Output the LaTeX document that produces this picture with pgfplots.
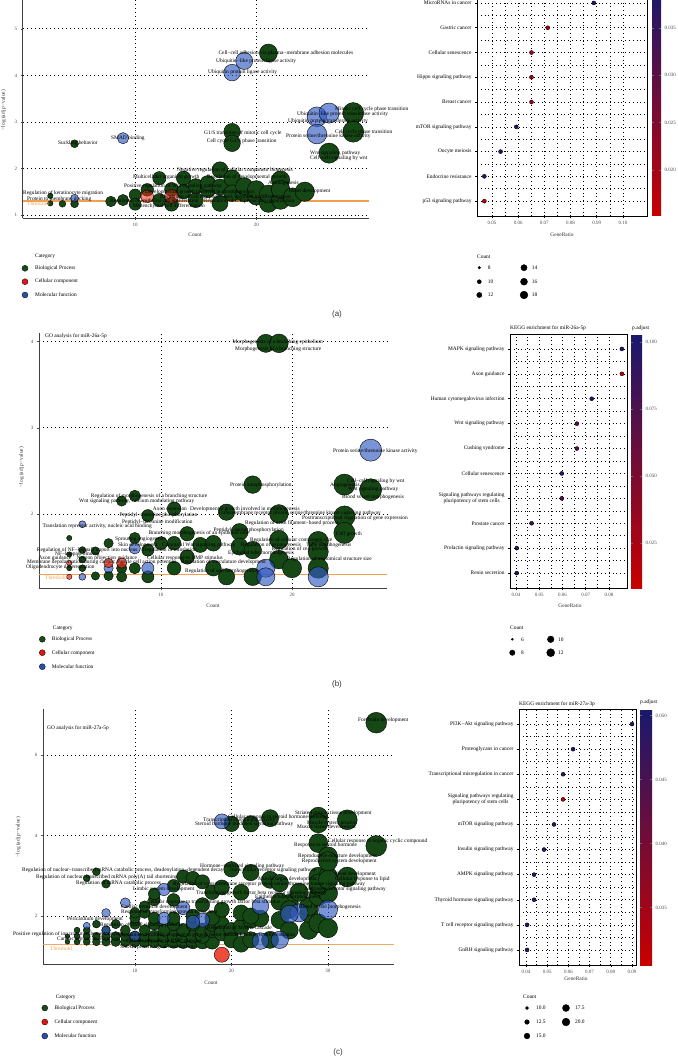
\documentclass[border=0pt]{standalone}
\usepackage{pgfplots}
\pgfplotsset{compat=1.18}
\usepackage{fontspec}
\setmainfont{Liberation Serif}
\newfontfamily\sansf{Liberation Sans}
\definecolor{goG}{RGB}{22,72,22}
\definecolor{goB}{RGB}{50,90,195}
\definecolor{goR}{RGB}{235,45,25}
\definecolor{legG}{RGB}{25,75,25}
\definecolor{legR}{RGB}{228,20,20}
\definecolor{legB}{RGB}{40,80,170}
\definecolor{thr}{RGB}{240,160,80}
\newcommand\lf{\fontsize{5.4}{6}\selectfont}
\newcommand\tf{\fontsize{5}{5.6}\selectfont}
\newcommand\TW[3]{\node[anchor=west,font=\lf,inner sep=0pt] at (#1pt,-#2pt) {#3};}
\newcommand\TE[3]{\node[anchor=east,font=\lf,inner sep=0pt] at (#1pt,-#2pt) {#3};}
\newcommand\THR[2]{\node[anchor=west,font=\lf,inner sep=0pt,text=thr] at (#1pt,-#2pt) {Threshold};}
\pgfplotsset{
  goaxis/.style={scale only axis, clip=false, axis lines=left, axis line style={-, line width=0.6pt, black!75},
    xmajorgrids, ymajorgrids, major grid style={black, line width=0.75pt, dash pattern=on 0.75pt off 3.2pt},
    tick align=outside, major tick length=2pt, tick style={black!70, line width=0.5pt},
    tick label style={font=\tf, text=black!70, /pgf/number format/assume math mode=true}},
  bubble/.style n args={3}{scatter, only marks, mark=*,
    scatter/use mapped color={draw=none, fill=#1, fill opacity=#2},
    visualization depends on={#3 \as \rad},
    scatter/@pre marker code/.append style={/tikz/mark size=\rad}},
  keggaxis/.style={scale only axis, ymin=0.4, axis line style={line width=0.8pt, black},
    grid=both, minor x tick num=1, minor y tick num=1,
    grid style={black, line width=0.6pt, dash pattern=on 0.6pt off 3.2pt},
    major grid style={black, line width=0.6pt, dash pattern=on 0.6pt off 3.2pt},
    minor tick length=0pt, tick align=outside, major tick length=2pt, tick style={black, line width=0.5pt},
    tick pos=left, scaled x ticks=false,
    xticklabel style={font=\tf, text=black!70, /pgf/number format/assume math mode=true, /pgf/number format/fixed, /pgf/number format/fixed zerofill, /pgf/number format/precision=2},
    yticklabel style={font=\lf, align=center},
    colormap={kegg}{rgb255(0cm)=(200,0,0); rgb255(1cm)=(25,25,110)},
    colorbar, colorbar shift/.style={xshift=5pt}},
  kdot/.style={scatter, only marks, mark=*, point meta=\thisrow{p},
    visualization depends on={\thisrow{r} \as \rad},
    scatter/@pre marker code/.append style={/tikz/mark size=\rad},
    scatter/use mapped color={draw=none, fill=mapped color}},
  cbar/.style={colorbar style={at={(parent axis.north east)}, anchor=north west, scale only axis, width=#1,
    yticklabel style={font=\tf, text=black!70}, scaled y ticks=false,
    yticklabel={\pgfmathprintnumber[fixed,fixed zerofill,precision=3,assume math mode=true]{\tick}},
    major tick length=2pt, tick style={black!60}, axis line style={draw=none}}},
}
\begin{document}
\begin{tikzpicture}
\useasboundingbox (0pt,-1059pt) rectangle (677pt,0pt);

% ================= (a) GO =================
\begin{axis}[goaxis, at={(22.7pt,-218pt)}, anchor=south west, width=346.3pt, height=238pt,
  xmin=0.72, xmax=29.3, ymin=0.935, ymax=6.05, ytick={1,2,3,4,5}, xtick={10,20}]
\addplot[thr, line width=1.1pt] coordinates {(0.72,1.301) (29.3,1.301)};
\addplot[bubble={goG}{1}{sqrt(4.1*\thisrow{x}-5)}] table[row sep=\\]{x y\\
3 1.41\\ 3 1.25\\ 4 1.24\\ 5 1.24\\ 5 2.53\\ 8 1.29\\ 9 1.32\\ 10 1.43\\ 10 1.23\\ 11 1.54\\
12 1.79\\ 12 1.32\\ 13 1.23\\ 13 1.55\\ 14 1.79\\ 14 1.50\\ 15 1.32\\ 15 1.62\\ 16 1.54\\ 16 1.68\\
17 1.97\\ 17 1.25\\ 17 1.60\\ 18 1.79\\ 18 1.47\\ 18 2.79\\ 18 2.54\\ 19 1.47\\ 19 1.62\\ 20 1.40\\
20 1.55\\ 21 1.25\\ 21 1.45\\ 21 4.48\\ 22 1.75\\ 22 1.32\\ 22 1.55\\ 23 1.38\\ 24 1.50\\ 26 2.33\\
28 3.19\\ 28 2.79\\};
\addplot[bubble={goB}{0.65}{sqrt(4.1*\thisrow{x}-5)}] table[row sep=\\]{x y\\
5 1.36\\ 9 2.65\\ 18 4.06\\ 19 4.31\\ 25 3.11\\ 26 3.19\\ 25 2.74\\};
\addplot[bubble={goR}{0.55}{sqrt(4.1*\thisrow{x}-5)}] table[row sep=\\]{x y\\
11 1.40\\ 13 1.40\\};
\end{axis}

% ================= (a) KEGG =================
\begin{axis}[keggaxis, cbar=9pt, at={(477pt,-216pt)}, anchor=south west, width=170pt, height=227.9pt,
  xmin=0.0443, xmax=0.1092, ymax=9.6, xtick={0.05,0.06,0.07,0.08,0.09,0.10},
  ytick={1,...,9}, yticklabels={p53 signaling pathway, Endocrine resistance, Oocyte meiosis, mTOR signaling pathway, Breast cancer, Hippo signaling pathway, Cellular senescence, Gastric cancer, MicroRNAs in cancer},
  point meta min=0.0151, point meta max=0.0392,
  colorbar style={ytick={0.020,0.025,0.030,0.035}}]
\addplot[kdot] table[row sep=\\]{x y p r\\
0.0471 1 0.0160 1.3\\ 0.0471 2 0.0370 1.3\\ 0.0533 3 0.0370 2.3\\ 0.0593 4 0.0375 2.7\\
0.0651 5 0.0205 2.8\\ 0.0651 6 0.0205 2.8\\ 0.0651 7 0.0205 2.8\\ 0.0713 8 0.0160 3.1\\ 0.0889 9 0.0385 3.6\\};
\end{axis}

% ================= (b) GO =================
\begin{axis}[goaxis, at={(39pt,-588pt)}, anchor=south west, width=348pt, height=255pt,
  xmin=0.69, xmax=27.25, ymin=1.14, ymax=4.10, ytick={2,3,4}, xtick={10,20}]
\addplot[thr, line width=1.1pt] coordinates {(0.69,1.301) (27.25,1.301)};
\addplot[bubble={goG}{1}{sqrt(5*\thisrow{x}-8)}] table[row sep=\\]{x y\\
3 1.72\\ 3 1.53\\ 3 1.37\\ 4 1.58\\ 4 1.47\\ 4 1.37\\ 5 1.57\\ 5 1.28\\ 6 1.66\\ 6 1.28\\
7 2.15\\ 7 1.37\\ 7 1.27\\ 8 2.21\\ 8 1.72\\ 8 1.37\\ 9 1.98\\ 9 1.58\\ 9 1.27\\ 10 1.66\\
11 2.06\\ 11 1.66\\ 11 1.37\\ 12 1.77\\ 12 1.50\\ 13 1.64\\ 14 1.66\\ 14 1.37\\ 15 2.02\\ 15 1.27\\
16 1.79\\ 16 1.62\\ 17 2.34\\ 17 1.58\\ 17 1.27\\ 18 3.98\\ 19 3.98\\ 19 2.00\\ 19 1.70\\ 19 1.47\\
20 1.37\\ 22 1.68\\ 22 1.56\\ 22 1.37\\ 24 2.34\\ 24 1.97\\ 24 1.78\\ 26 2.28\\};
\addplot[bubble={goB}{0.65}{sqrt(5*\thisrow{x}-8)}] table[row sep=\\]{x y\\
4 1.88\\ 4 1.27\\ 6 1.37\\ 8 1.60\\ 9 1.37\\ 18 1.37\\ 18 1.27\\ 22 1.27\\ 26 2.74\\};
\addplot[bubble={goR}{0.7}{sqrt(5*\thisrow{x}-8)}] table[row sep=\\]{x y\\
3 1.43\\ 3 1.27\\ 6 1.43\\ 7 1.43\\};
\end{axis}

% ================= (b) KEGG =================
\begin{axis}[keggaxis, cbar=11pt, colorbar shift/.style={xshift=4pt}, at={(510pt,-588pt)}, anchor=south west, width=117pt, height=254pt,
  xmin=0.0374, xmax=0.0878, ymax=10.6, xtick={0.04,0.05,0.06,0.07,0.08},
  ytick={1,...,10}, yticklabels={Renin secretion, Prolactin signaling pathway, Prostate cancer, {Signaling pathways regulating\\pluripotency of stem cells}, Cellular senescence, Cushing syndrome, Wnt signaling pathway, Human cytomegalovirus infection, Axon guidance, MAPK signaling pathway},
  point meta min=0.0081, point meta max=0.103,
  colorbar style={ytick={0.025,0.050,0.075,0.100}}]
\addplot[kdot] table[row sep=\\]{x y p r\\
0.0403 1 0.100 1.0\\ 0.0403 2 0.100 1.0\\ 0.0467 3 0.085 2.2\\ 0.0597 4 0.070 3.0\\ 0.0597 5 0.097 3.0\\
0.0662 6 0.068 3.0\\ 0.0662 7 0.068 3.0\\ 0.0726 8 0.098 3.3\\ 0.0856 9 0.0085 4.0\\ 0.0856 10 0.102 4.0\\};
\end{axis}

% ================= (c) GO =================
\begin{axis}[goaxis, at={(43pt,-964pt)}, anchor=south west, width=351pt, height=255pt,
  xmin=0.47, xmax=36.84, ymin=0.81, ymax=7.14, ytick={2,4,6}, xtick={10,20,30}]
\addplot[bubble={goG}{1}{sqrt(3.2*\thisrow{x}-4)}] table[row sep=\\]{x y\\
3 1.36\\ 4 1.36\\ 5 1.36\\ 6 1.36\\ 7 1.36\\ 8 1.36\\ 9 1.36\\ 10 1.36\\ 11 1.36\\ 12 1.36\\
13 1.36\\ 14 1.36\\ 15 1.36\\ 16 1.36\\ 17 1.36\\ 18 1.36\\ 3 1.50\\ 4 1.50\\ 5 1.50\\ 6 1.50\\
7 1.50\\ 8 1.50\\ 9 1.50\\ 10 1.50\\ 11 1.50\\ 12 1.50\\ 13 1.50\\ 14 1.50\\ 15 1.50\\ 16 1.50\\
17 1.50\\ 4 1.65\\ 5 1.65\\ 7 1.65\\ 9 1.65\\ 11 1.65\\ 13 1.65\\ 15 1.65\\ 17 1.65\\ 18 1.65\\
6 1.80\\ 8 1.80\\ 10 1.80\\ 12 1.80\\ 14 1.80\\ 16 1.80\\ 18 1.80\\ 19 1.80\\ 10 1.95\\ 11 2.08\\
12 1.95\\ 14 1.95\\ 16 2.00\\ 18 1.95\\ 19 1.57\\ 20 1.65\\ 20 1.40\\ 21 1.74\\ 21 1.30\\ 22 1.41\\
22 1.90\\ 23 1.94\\ 24 1.41\\ 25 1.90\\ 26 1.65\\ 26 2.32\\ 28 1.65\\ 28 2.07\\ 29 1.82\\ 30 1.70\\
10 2.08\\ 11 2.24\\ 12 2.40\\ 14 2.40\\ 17 2.28\\ 19 2.16\\ 21 2.08\\ 22 2.00\\ 25 2.36\\ 26 2.16\\
28 2.24\\ 29 2.49\\ 21 2.59\\ 15 2.98\\ 16 2.94\\ 14 2.75\\ 17 2.85\\ 18 2.59\\ 19 2.71\\ 20 3.16\\
22 3.08\\ 24 2.90\\ 25 2.82\\ 29 2.98\\ 30 2.98\\ 30 2.57\\ 29 2.75\\ 27 2.59\\ 29 2.81\\ 30 2.90\\
6 3.10\\ 5 2.94\\ 7 2.80\\ 12 2.55\\ 20 4.29\\ 22 4.29\\ 24 4.43\\ 29 4.47\\ 29 4.30\\ 32 4.39\\
29 3.81\\ 30 3.48\\ 30 3.36\\ 35 3.74\\ 35 6.80\\ 32 2.97\\};
\addplot[bubble={goB}{0.65}{sqrt(3.2*\thisrow{x}-4)}] table[row sep=\\]{x y\\
19 4.35\\ 13 2.66\\ 9 2.33\\ 7 2.08\\ 15 2.20\\ 17 1.90\\ 23 2.25\\ 27 2.08\\ 30 2.16\\ 5 1.76\\
16 1.85\\ 23 1.38\\ 25 1.41\\ 7 1.65\\ 13 1.94\\ 10 1.50\\ 26 2.05\\};
\addplot[bubble={goR}{0.85}{sqrt(3.2*\thisrow{x}-4)}] table[row sep=\\]{x y\\ 19 1.04\\};
\addplot[thr, line width=1.1pt, opacity=0.9] coordinates {(0.47,1.301) (36.84,1.301)};
\end{axis}

% ================= (c) KEGG =================
\begin{axis}[keggaxis, cbar=12pt, colorbar shift/.style={xshift=4pt}, at={(519pt,-965pt)}, anchor=south west, width=117pt, height=256pt,
  xmin=0.0367, xmax=0.0919, ymax=10.6, xtick={0.04,0.05,0.06,0.07,0.08,0.09},
  ytick={1,...,10}, yticklabels={GnRH signaling pathway, T cell receptor signaling pathway, Thyroid hormone signaling pathway, AMPK signaling pathway, Insulin signaling pathway, mTOR signaling pathway, {Signaling pathways regulating\\pluripotency of stem cells}, Transcriptional misregulation in cancer, Proteoglycans in cancer, PI3K−Akt signaling pathway},
  point meta min=0.0305, point meta max=0.0505,
  colorbar style={ytick={0.035,0.040,0.045,0.050}}]
\addplot[kdot] table[row sep=\\]{x y p r\\
0.0405 1 0.0500 1.3\\ 0.0405 2 0.0500 1.3\\ 0.0438 3 0.0495 2.2\\ 0.0438 4 0.0495 2.2\\ 0.0485 5 0.0495 2.5\\
0.0532 6 0.0495 2.7\\ 0.0575 7 0.0308 3.0\\ 0.0575 8 0.0495 3.0\\ 0.0622 9 0.0500 3.3\\ 0.0900 10 0.0500 4.0\\};
\end{axis}

% ================= legends (overlay axis in pixel units) =================
\begin{axis}[at={(0pt,-1059pt)}, anchor=south west, scale only axis, width=677pt, height=1059pt,
  xmin=0, xmax=677, ymin=-1059, ymax=0, hide axis, clip=false]
\addplot[only marks, mark=*, mark size=3pt, mark options={fill=legG, draw=black, line width=0.3pt}] coordinates {(25,-268.3) (42.3,-639.3) (44.8,-1008)};
\addplot[only marks, mark=*, mark size=3pt, mark options={fill=legR, draw=black, line width=0.3pt}] coordinates {(25,-281.7) (42.3,-652.7) (44.8,-1022)};
\addplot[only marks, mark=*, mark size=3pt, mark options={fill=legB, draw=black, line width=0.3pt}] coordinates {(25,-295) (42.3,-666.7) (44.8,-1036)};
\addplot[scatter, only marks, mark=*, scatter/use mapped color={draw=none, fill=black},
  visualization depends on={\thisrow{r} \as \rad}, scatter/@pre marker code/.append style={/tikz/mark size=\rad}]
  table[row sep=\\]{x y r\\
  479.3 -267.7 1.3\\ 479.3 -281.7 2.0\\ 479.3 -295 2.6\\ 524 -267.7 3.1\\ 524 -281.7 3.5\\ 524 -295 3.9\\
  512.3 -639.3 1.0\\ 512.3 -652.7 2.7\\ 550.7 -639.3 3.3\\ 550.7 -652.7 4.0\\
  527 -1008 1.5\\ 527 -1022 2.3\\ 527 -1036 2.9\\ 566 -1008 3.5\\ 566 -1022 3.9\\};
\end{axis}

% ================= texts =================
\node[rotate=90,font=\lf,text=black!80] at (3.5pt,-110pt) {−log (adj \textit{p}−value)};
\node[rotate=90,font=\lf,text=black!80] at (21.7pt,-467pt) {−log (adj \textit{p}−value)};
\node[rotate=90,font=\lf,text=black!80] at (18.3pt,-837pt) {−log (adj \textit{p}−value)};
\node[font=\lf,text=black!80] at (195pt,-235pt) {Count};
\node[font=\lf,text=black!80] at (213pt,-606pt) {Count};
\node[font=\lf,text=black!80] at (211pt,-983pt) {Count};
\node[font=\lf,text=black!80] at (562pt,-235pt) {GeneRatio};
\node[font=\lf,text=black!80] at (570pt,-606pt) {GeneRatio};
\node[font=\lf,text=black!80] at (576pt,-979pt) {GeneRatio};
\TW{45}{335.7}{GO analysis for miR-26a-5p}
\TW{47}{727.7}{GO analysis for miR-27a-5p}
\TW{510}{328}{KEGG enrichment for miR-26a-5p}
\TW{519}{704}{KEGG enrichment for miR-27a-3p}
\TW{632}{328}{p.adjust}
\TW{640}{702}{p.adjust}
\TW{35}{256.7}{Category}\TW{35}{268.3}{Biological Process}\TW{35}{281.7}{Cellular component}\TW{35}{295}{Molecular function}
\TW{52.7}{628.3}{Category}\TW{51.7}{639.3}{Biological Process}\TW{51.7}{652.7}{Cellular component}\TW{51.7}{666.7}{Molecular function}
\TW{55.6}{997}{Category}\TW{54.3}{1008}{Biological Process}\TW{54.3}{1022}{Cellular component}\TW{54.3}{1036}{Molecular function}
\TW{477}{256.7}{Count}\TW{487.7}{267.7}{8}\TW{487.7}{281.7}{10}\TW{487.7}{295}{12}\TW{531.7}{267.7}{14}\TW{531.7}{281.7}{16}\TW{531.7}{295}{18}
\TW{510}{627.7}{Count}\TW{521}{639.3}{6}\TW{521}{652.7}{8}\TW{558}{639.3}{10}\TW{558}{652.7}{12}
\TW{523}{997}{Count}\TW{536}{1008}{10.0}\TW{536}{1022}{12.5}\TW{536}{1036}{15.0}\TW{575}{1008}{17.5}\TW{575}{1022}{20.0}
\node[font=\sansf\fontsize{8}{9}\selectfont,text=black!80] at (337pt,-314pt) {(a)};
\node[font=\sansf\fontsize{8}{9}\selectfont,text=black!80] at (337pt,-684pt) {(b)};
\node[font=\sansf\fontsize{8}{9}\selectfont,text=black!80] at (338pt,-1052pt) {(c)};
% (a) GO labels
\TW{218.3}{53}{Cell−cell adhesion via plasma−membrane adhesion molecules}
\TW{216}{61.3}{Ubiquitin−like protein ligase activity}
\TW{208}{72}{Ubiquitin protein ligase activity}
\TW{58}{143.5}{Suckling behavior}
\TW{111}{138.7}{SMAD binding}
\TW{204}{132.7}{G1/S transition of mitotic cell cycle}
\TW{206.7}{141.3}{Cell cycle G1/S phase transition}
\TW{335}{109}{Mitotic cell cycle phase transition}
\TW{297}{114}{Ubiquitin−like protein transferase activity}
\TW{288}{120.7}{Ubiquitin protein transferase activity}
\TW{335}{132}{Cell cycle phase transition}
\TW{286}{136.7}{Protein serine/threonine kinase activity}
\TW{310}{153}{Wnt signaling pathway}
\TW{310}{158.7}{Cell−cell signaling by wnt}
\TW{177}{170}{Negative regulation of cellular component biogenesis}
\TW{133}{177}{Multicellular organism growth}
\TW{207}{177}{Regulation of developmental growth}
\TW{268}{183.3}{Axonogenesis}
\TW{124}{186}{Positive regulation of Wnt signaling pathway}
\TW{289}{191.7}{Heart development}
\TW{23}{192.7}{Regulation of keratinocyte migration}
\TW{145}{192}{Developmental growth involved in morphogenesis}
\TW{160}{196.7}{Regulation of cell morphogenesis involved in differentiation}
\TW{27}{199}{Protein to membrane docking}
\TW{110}{201.5}{Regulation of epithelial cell proliferation\quad Regulation of cell projection organization}
\TW{133}{206}{Mesenchymal cell differentiation}
\THR{27}{204}
% (b) GO labels
\TW{232.3}{342.3}{Morphogenesis of a branching epithelium}
\TW{235}{349}{Morphogenesis of a branching structure}
\TW{333}{451}{Protein serine/threonine kinase activity}
\TW{230}{485}{Protein autophosphorylation}
\TW{330}{485}{Angiogenesis}
\TW{347}{481}{Cell−cell signaling by wnt}
\TW{348}{489}{Wnt signaling pathway}
\TW{342}{497.7}{Blood vessel morphogenesis}
\TW{90.7}{495.7}{Regulation of morphogenesis of a branching structure}
\TW{79}{501}{Wnt signaling pathway, calcium modulating pathway}
\TW{152.7}{509}{Axon extension}
\TW{190}{509}{Developmental growth involved in morphogenesis}
\TW{218}{513.3}{Transmembrane receptor protein serine/threonine kinase signaling pathway}
\TW{119.3}{515.3}{Peptidyl−threonine phosphorylation}
\TE{408}{517.7}{Posttranscriptional regulation of gene expression}
\TW{122}{522}{Peptidyl−threonine modification}
\TW{42.3}{526}{Translation repressor activity, nucleic acid binding}
\TW{245}{522.7}{Regulation of actin filament−based process}
\TW{213.3}{530}{Peptidyl−serine phosphorylation}
\TW{148.3}{533.3}{Branching morphogenesis of an epithelial tube}
\TE{362}{534}{Cell growth}
\TW{115}{539}{Sprouting angiogenesis}
\TW{250}{540}{Regulation of cellular component size}
\TW{118}{545}{Skin development}
\TW{162}{545}{Canonical Wnt signaling pathway\quad Regulation of axonogenesis\quad Tube morphogenesis}
\TW{271.7}{549}{Regulation of cell growth}
\TW{36.7}{550}{Regulation of NF−kappaB import into nucleus\quad Regulation of translation}
\TW{55}{554}{NF−kappaB binding}
\TW{228}{553}{Epithelial tube morphogenesis}
\TW{287}{559}{Regulation of anatomical structure size}
\TW{38.3}{558}{Axon guidance\quad Neuron projection guidance}
\TW{147}{558}{Cellular response to BMP stimulus}
\TW{27}{562}{Membrane depolarization during cardiac muscle cell action potential\quad Regulation of vasculature development}
\TW{26}{567.3}{Oligodendrocyte differentiation}
\TW{185}{570.7}{Regulation of cell morphogenesis}
\THR{45}{578}
% (c) GO labels
\TW{358}{720}{Forebrain development}
\TW{295}{812.7}{Striated muscle tissue development}
\TW{228}{816.7}{Cellular response to steroid hormone stimulus}
\TW{203}{820}{Transcription coregulator activity}
\TE{357}{822.7}{Muscle system process}
\TW{195}{824}{Steroid hormone mediated signaling pathway}
\TW{297}{827}{Muscle tissue development}
\TW{328}{840.7}{Cellular response to organic cyclic compound}
\TW{294}{845}{Response to steroid hormone}
\TW{298}{856}{Reproductive structure development}
\TW{301.7}{860.7}{Reproductive system development}
\TW{200}{866}{Hormone−mediated signaling pathway}
\TW{22}{870}{Regulation of nuclear−transcribed mRNA catabolic process, deadenylation−dependent decay}
\TW{230}{870}{Intracellular receptor signaling pathway}
\TW{335}{874}{Head development}
\TW{36}{877}{Regulation of nuclear−transcribed mRNA poly(A) tail shortening}
\TW{335}{879}{Cellular response to lipid}
\TW{258}{879}{Muscle organ development}
\TW{76}{883}{Regulation of mRNA catabolic process}
\TW{173}{884}{Regulation of transmembrane receptor protein serine/threonine kinase signaling pathway}
\TE{386}{889}{Androgen receptor signaling pathway}
\TW{133}{889}{Limbic system development}
\TW{196}{893}{Transforming growth factor beta receptor signaling pathway}
\TW{255}{897.5}{Epithelial tube morphogenesis}
\TW{147}{902.5}{Cellular response to transforming growth factor beta stimulus}
\TW{121}{907.5}{Cardiac ventricle development}
\TE{361}{907}{Blood vessel morphogenesis}
\TW{121}{912.5}{Response to transforming growth factor beta}
\TW{67}{919}{Pericardium development}
\TW{100}{925}{Regulation of BMP signaling pathway}
\TW{207}{928.3}{Regulation of MAPK cascade}
\TW{13}{934}{Positive regulation of ion transmembrane transport}
\TW{118}{935}{Regulation of cellular response to growth factor stimulus}
\TW{240}{935.3}{Leukocyte differentiation}
\TW{57}{939.5}{Cardiac septum development}
\TW{126}{941}{Cellular response to BMP stimulus}
\TW{120}{946.7}{SMAD protein signal transduction}
\THR{50}{949}
\end{tikzpicture}
\end{document}
